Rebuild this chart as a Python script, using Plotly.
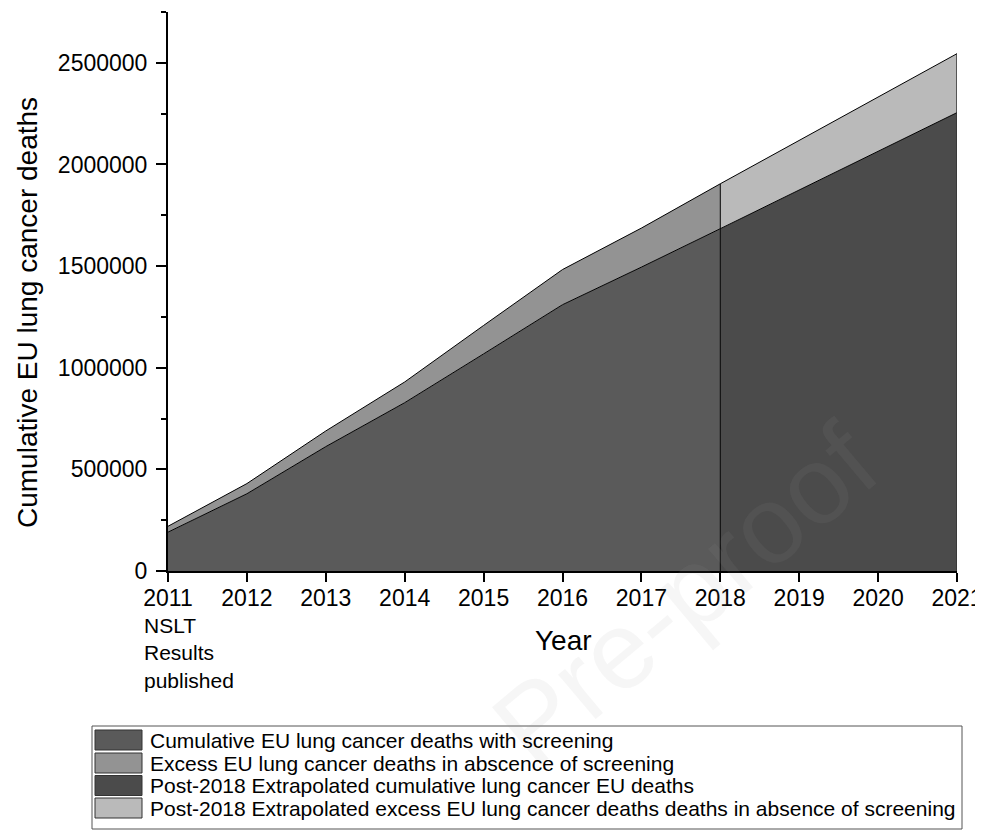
import plotly.graph_objects as go

# ---------------- data ----------------
years_pre = [2011, 2012, 2013, 2014, 2015, 2016, 2017, 2018]
deaths_with_screening = [191000, 380000, 612000, 828000, 1068000, 1310000, 1495000, 1684000]
deaths_without_screening = [220000, 430000, 689000, 930000, 1208000, 1483000, 1687000, 1905000]

years_post = [2018, 2019, 2020, 2021]
post_with_screening = [1684000, 1874000, 2064000, 2255000]
post_without_screening = [1905000, 2118000, 2330000, 2545000]

x_ticks = [2011, 2012, 2013, 2014, 2015, 2016, 2017, 2018, 2019, 2020, 2021]

series_names = [
    "Cumulative EU lung cancer deaths with screening",
    "Excess EU lung cancer deaths in abscence of screening",
    "Post-2018 Extrapolated cumulative lung cancer EU deaths",
    "Post-2018 Extrapolated excess EU lung cancer deaths deaths in absence of screening",
]
series_colors = ["#5a5a5a", "#939393", "#4b4b4b", "#bababa"]

FONT = "Liberation Sans, Arial, sans-serif"

# page offset (body margin) and figure geometry
OFF = 8
W, H = 975, 822
L, R, T, B = 160, 26, 4, 259
PW, PH = W - L - R, H - T - B


def px(sx):
    """screen x pixel -> paper x"""
    return (sx - OFF - L) / PW


def py(sy):
    """screen y pixel -> paper y"""
    return (H - B - (sy - OFF)) / PH


fig = go.Figure()

line_style = dict(color="black", width=1)

fig.add_trace(go.Scatter(x=years_pre, y=deaths_with_screening, mode="lines",
                         fill="tozeroy", fillcolor=series_colors[0], line=line_style,
                         name=series_names[0], showlegend=False))
fig.add_trace(go.Scatter(x=years_pre, y=deaths_without_screening, mode="lines",
                         fill="tonexty", fillcolor=series_colors[1], line=line_style,
                         name=series_names[1], showlegend=False))
fig.add_trace(go.Scatter(x=years_post, y=post_with_screening, mode="lines",
                         fill="tozeroy", fillcolor=series_colors[2], line=line_style,
                         name=series_names[2], showlegend=False))
fig.add_trace(go.Scatter(x=years_post, y=post_without_screening, mode="lines",
                         fill="tonexty", fillcolor=series_colors[3], line=line_style,
                         name=series_names[3], showlegend=False))

# vertical boundary lines at 2018 and 2021
fig.add_trace(go.Scatter(x=[years_pre[-1], years_pre[-1]], y=[0, deaths_without_screening[-1]],
                         mode="lines", line=dict(color="black", width=1), showlegend=False,
                         hoverinfo="skip"))
fig.add_trace(go.Scatter(x=[years_post[-1], years_post[-1]], y=[0, post_without_screening[-1]],
                         mode="lines", line=dict(color="#333333", width=1.5), showlegend=False,
                         hoverinfo="skip"))

fig.update_xaxes(range=[2011, 2021], tickvals=x_ticks, showline=True, linecolor="black",
                 linewidth=2, ticks="outside", ticklen=9, tickwidth=2, tickcolor="black",
                 showgrid=False, zeroline=False, tickfont=dict(family=FONT, size=23, color="black"),
                 ticklabelstandoff=-4, automargin=False)
fig.update_yaxes(range=[0, 2750000], dtick=500000, tick0=0, tickformat="d", showline=True,
                 linecolor="black", linewidth=2, ticks="outside", ticklen=10, tickwidth=2,
                 tickcolor="black", showgrid=False, zeroline=False,
                 minor=dict(ticks="outside", ticklen=5, tickwidth=2, tickcolor="black",
                            dtick=250000, tick0=0, showgrid=False),
                 tickfont=dict(family=FONT, size=23, color="black"), ticklabelstandoff=4,
                 automargin=False)

annotations = [
    dict(text="Cumulative EU lung cancer deaths", textangle=-90, x=px(27), y=py(313),
         xref="paper", yref="paper", showarrow=False, xanchor="center", yanchor="middle",
         font=dict(family=FONT, size=28, color="black")),
    dict(text="Year", x=px(563), y=py(640), xref="paper", yref="paper", showarrow=False,
         xanchor="center", yanchor="middle", font=dict(family=FONT, size=28, color="black")),
    dict(text="NSLT<br>Results<br>published", x=px(142), y=py(612), xref="paper", yref="paper",
         showarrow=False, xanchor="left", yanchor="top", align="left",
         font=dict(family=FONT, size=21, color="black")),
]

# faint watermark (drawn beneath the legend box)
annotations.append(dict(text="Pre-proof", x=px(684), y=py(594), xref="paper", yref="paper",
                        showarrow=False, xanchor="center", yanchor="middle", textangle=-40,
                        font=dict(family=FONT, size=110, color="rgba(150,150,150,0.09)")))

shapes = [
    dict(type="rect", xref="paper", yref="paper", x0=px(92), x1=px(962), y0=py(726), y1=py(829),
         line=dict(color="#555555", width=1), fillcolor="white", layer="above"),
]

row_centers = [740, 763, 785.5, 808]
for name, color, rc in zip(series_names, series_colors, row_centers):
    shapes.append(dict(type="rect", xref="paper", yref="paper", x0=px(95), x1=px(142),
                       y0=py(rc + 10), y1=py(rc - 10), line=dict(color="#333333", width=1),
                       fillcolor=color, layer="above"))
    annotations.append(dict(text=name, x=px(148), y=py(rc), xref="paper", yref="paper",
                            showarrow=False, xanchor="left", yanchor="middle",
                            font=dict(family=FONT, size=21, color="black")))

fig.update_layout(
    width=W, height=H,
    margin=dict(l=L, r=R, t=T, b=B, autoexpand=False),
    paper_bgcolor="white", plot_bgcolor="white",
    showlegend=False,
    annotations=annotations,
    shapes=shapes,
    font=dict(family=FONT, color="black"),
)

fig.write_html("out.html")
